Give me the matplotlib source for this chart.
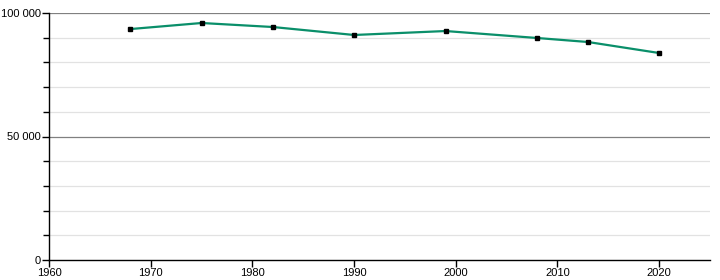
import matplotlib
matplotlib.use("Agg")
import matplotlib.pyplot as plt
from matplotlib.ticker import MultipleLocator, FuncFormatter

# Données
annees = [1968, 1975, 1982, 1990, 1999, 2008, 2013, 2020]
population = [93500, 95950, 94330, 91100, 92700, 89880, 88260, 83800]

plt.rcParams['font.family'] = ['Liberation Sans', 'DejaVu Sans']

fig = plt.figure(figsize=(7.2, 2.8), dpi=100)
ax = fig.add_axes([49 / 720, 20 / 280, 661 / 720, 247 / 280])

# Grille
for v in range(10000, 100001, 10000):
    if v % 50000 == 0:
        ax.axhline(v, color='#808080', lw=0.9, zorder=1)
    else:
        ax.axhline(v, color='#e2e2e2', lw=0.9, zorder=1)

ax.plot(annees, population, color='#0a8f6a', lw=1.6, zorder=3)
ax.plot(annees, population, ls='none', marker='s', ms=3.5, color='black', zorder=4)

ax.set_xlim(1960, 2025)
ax.set_ylim(0, 100000)
ax.xaxis.set_major_locator(MultipleLocator(10))
ax.yaxis.set_major_locator(MultipleLocator(50000))
ax.yaxis.set_minor_locator(MultipleLocator(10000))
ax.yaxis.set_major_formatter(FuncFormatter(lambda v, p: f"{int(v):,}".replace(",", " ")))

for s in ['top', 'right']:
    ax.spines[s].set_visible(False)
for s in ['left', 'bottom']:
    ax.spines[s].set_linewidth(1)
    ax.spines[s].set_color('black')

ax.tick_params(axis='both', labelsize=8, length=5, width=1, pad=1)
ax.tick_params(axis='y', which='minor', length=4, width=1)

fig.savefig('out.png', dpi=100)
